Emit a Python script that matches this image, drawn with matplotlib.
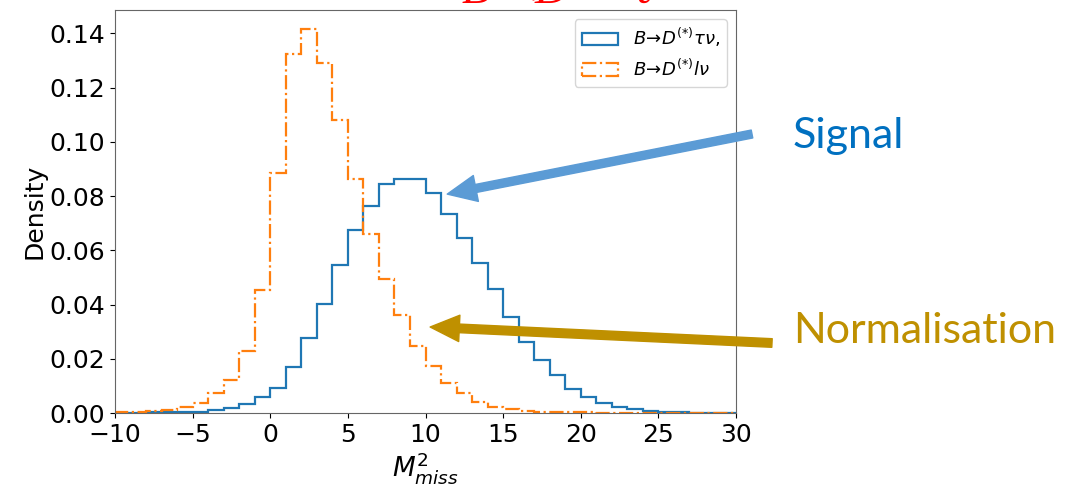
import numpy as np
import matplotlib
matplotlib.use('Agg')
import matplotlib.pyplot as plt

# bin edges of the M^2_miss histograms (unit-width bins)
bin_lo, bin_hi = -10, 30

# normalised densities, one value per bin
tau_density = [0.0001, 0.0001, 0.0002, 0.0002, 0.0003, 0.0005, 0.0011, 0.0017, 0.0033, 0.0058,
               0.0093, 0.0170, 0.0278, 0.0403, 0.0546, 0.0675, 0.0764, 0.0844, 0.0862, 0.0862,
               0.0811, 0.0734, 0.0644, 0.0554, 0.0456, 0.0354, 0.0262, 0.0195, 0.0140, 0.0088,
               0.0060, 0.0036, 0.0023, 0.0014, 0.0007, 0.0004, 0.0002, 0.0001, 0.0001, 0.0001]
lep_density = [0.0003, 0.0004, 0.0006, 0.0011, 0.0021, 0.0038, 0.0072, 0.0121, 0.0229, 0.0452,
               0.0885, 0.1325, 0.1415, 0.1290, 0.1080, 0.0862, 0.0660, 0.0495, 0.0360, 0.0247,
               0.0174, 0.0109, 0.0075, 0.0042, 0.0023, 0.0013, 0.0008, 0.0005, 0.0004, 0.0003,
               0.0002, 0.0001, 0.0001, 0.0001, 0.0001, 0.0001, 0.0001, 0.0001, 0.0001, 0.0001]

labels = [r'$B\!\rightarrow\!D^{(*)}\tau\nu$,', r'$B\!\rightarrow\!D^{(*)}l\nu$']

edges = np.arange(bin_lo, bin_hi + 1)
centres = edges[:-1] + 0.5

fig = plt.figure(figsize=(10.76, 4.9), dpi=100)
ax = fig.add_axes([115/1076, 77/490, 621/1076, 403/490])

# step histograms, weighted with the read densities
ax.hist(centres, bins=edges, weights=tau_density, histtype='step',
        color='#1f77b4', lw=1.6, label=labels[0])
ax.hist(centres, bins=edges, weights=lep_density, histtype='step',
        color='#ff7f0e', lw=1.6, ls='-.', label=labels[1])

ax.set_xlim(bin_lo, bin_hi)
ax.set_ylim(0, max(lep_density) * 1.05)
ax.set_xticks(range(-10, 31, 5))
ax.set_yticks(np.arange(0, 0.141, 0.02))
ax.tick_params(labelsize=18)
for s in ax.spines.values():
    s.set_color('#666666')
ax.set_ylabel('Density', fontsize=18, labelpad=2)
ax.set_xlabel(r'$M^2_{miss}$', fontsize=19, labelpad=2)
ax.legend(loc='upper right', fontsize=13)

# slide annotations
ax.annotate('', xy=(11.4, 0.0807), xytext=(752/1076, 1 - 134/490),
            textcoords='figure fraction',
            arrowprops=dict(arrowstyle='simple,head_width=1.9,head_length=2.1,tail_width=0.58',
                            mutation_scale=10, color='#5b9bd5', shrinkA=0, shrinkB=0),
            annotation_clip=False)
ax.annotate('', xy=(10.3, 0.0317), xytext=(772/1076, 1 - 343/490),
            textcoords='figure fraction',
            arrowprops=dict(arrowstyle='simple,head_width=1.9,head_length=2.1,tail_width=0.62',
                            mutation_scale=10, color='#bf9000', shrinkA=0, shrinkB=0),
            annotation_clip=False)
fig.text(793/1076, 1 - 148/490, 'Signal', color='#0070c0', fontsize=31,
         family='Lato', va='baseline', ha='left')
fig.text(793/1076, 1 - 343/490, 'Normalisation', color='#bf9000', fontsize=31,
         family='Lato', va='baseline', ha='left')

# title of the slide, cut by the top border
title_font = dict(color='red', fontsize=34, style='italic', va='baseline', ha='left',
                  family=['Liberation Serif', 'DejaVu Serif'])
fig.text(462/1076, 1 - 3/490, 'B →', **title_font)
fig.text(535/1076, 1 - 3/490, 'D*', **title_font)
fig.text(633/1076, 1 - 3/490, 'ℓ', **title_font)

fig.savefig('out.png', dpi=100)
